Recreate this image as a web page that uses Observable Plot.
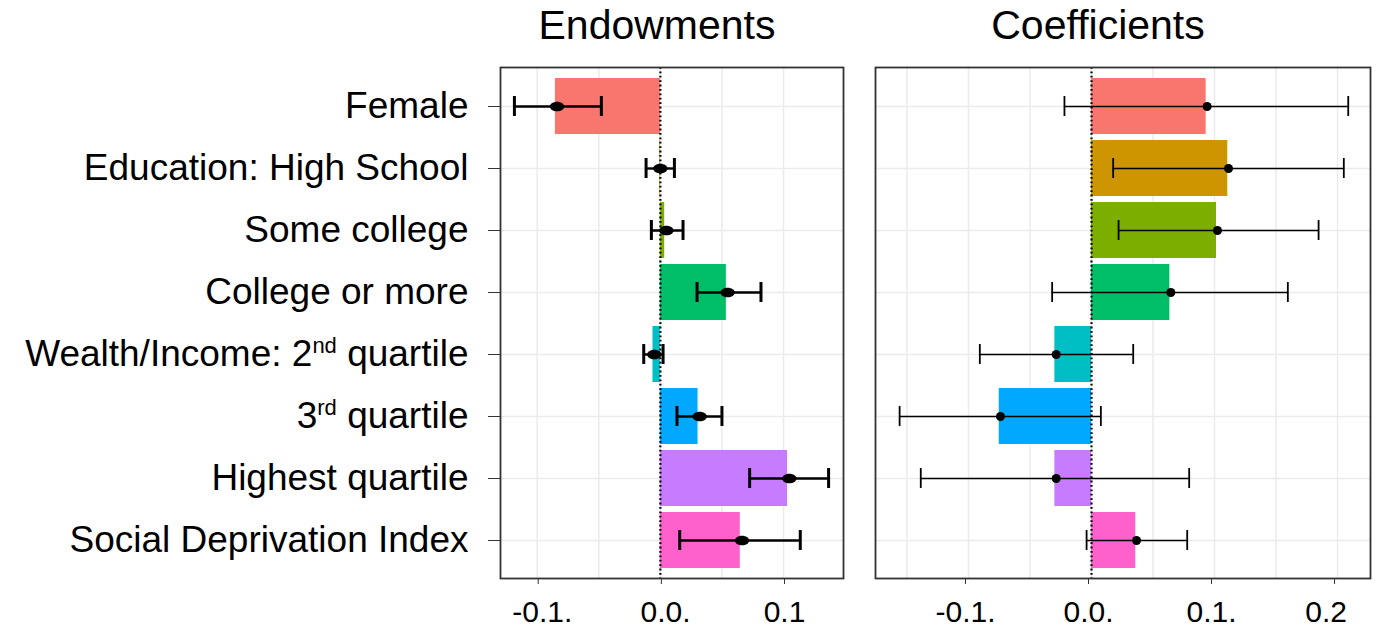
<!DOCTYPE html>
<html>
<head>
<meta charset="utf-8">
<script src="https://cdn.jsdelivr.net/npm/d3@7"></script>
<script src="https://cdn.jsdelivr.net/npm/@observablehq/plot@0.6"></script>
<style>
  html, body { margin: 0; padding: 0; background: #fff; }
  #wrap { position: relative; width: 1383px; height: 628px; overflow: hidden; font-family: "Liberation Sans", Arial, sans-serif; }
  .panel { position: absolute; top: 0; z-index: 1; }
  .title { position: absolute; top: 5px; z-index: 2; font-size: 41px; line-height: 41px; color: #000; transform: translateX(-50%); white-space: nowrap; }
</style>
</head>
<body>
<div id="wrap">
  <div class="panel" id="left" style="left:0px"></div>
  <div class="panel" id="right" style="left:855px"></div>
  <div class="title" id="t1" style="left:657px">Endowments</div>
  <div class="title" id="t2" style="left:1098px">Coefficients</div>
</div>
<script>
// ---- Data ----
const categories = ["Female", "Education: High School", "Some college", "College or more",
  "Wealth/Income: 2nd quartile", "3rd quartile", "Highest quartile", "Social Deprivation Index"];
const colors = ["#F8766D", "#CD9600", "#7CAE00", "#00BE67", "#00BFC4", "#00A9FF", "#C77CFF", "#FF61CC"];

const endowBar   = [-0.0852, -0.0005, 0.0035, 0.0536, -0.0060, 0.0306, 0.1033, 0.0649];
const endowPoint = [-0.0839,  0.0000, 0.0049, 0.0546, -0.0049, 0.0319, 0.1047, 0.0663];
const endowLow   = [-0.1185, -0.0116, -0.0073, 0.0298, -0.0135, 0.0135, 0.0725, 0.0157];
const endowHigh  = [-0.0479,  0.0114, 0.0184, 0.0817,  0.0022, 0.0500, 0.1366, 0.1136];

const coefBar   = [0.0932, 0.1108, 0.1016, 0.0637, -0.0298, -0.0750, -0.0298, 0.0360];
const coefPoint = [0.0940, 0.1114, 0.1024, 0.0645, -0.0287, -0.0740, -0.0287, 0.0366];
const coefLow   = [-0.0220, 0.0176, 0.0220, -0.0320, -0.0908, -0.1560, -0.1388, -0.0040];
const coefHigh  = [0.2087, 0.2051, 0.1846, 0.1596, 0.0339, 0.0076, 0.0794, 0.0778];

const leftTicks = [-0.1, 0, 0.1];
const leftTickLabels = ["-0.1.", "0.0.", "0.1"];
const rightTicks = [-0.1, 0, 0.1, 0.2];
const rightTickLabels = ["-0.1.", "0.0.", "0.1.", "0.2"];
const leftGrid = [-0.1, -0.05, 0, 0.05, 0.1];
const rightGrid = [-0.15, -0.1, -0.05, 0, 0.05, 0.1, 0.15, 0.2];

// ---- Build tables ----
function table(bar, pt, lo, hi) {
  return categories.map((c, i) => ({cat: c, color: colors[i], bar: bar[i], pt: pt[i], lo: lo[i], hi: hi[i]}));
}
const endow = table(endowBar, endowPoint, endowLow, endowHigh);
const coef = table(coefBar, coefPoint, coefLow, coefHigh);

// left panel: number centred on its tick, trailing period hangs (punctuation space balances it)
function fmtLeft(ticks, labels) {
  const m = new Map(ticks.map((t, i) => [t, labels[i]]));
  return d => { const s = m.get(d) ?? String(d); return s.endsWith(".") ? "\u2008" + s : s; };
}
// right panel: whole label centred; a label without a period is padded as in the reference
function fmtRight(ticks, labels) {
  const m = new Map(ticks.map((t, i) => [t, labels[i]]));
  return d => { const s = m.get(d) ?? String(d); return s.endsWith(".") ? s : s + "\u2008\u2008"; };
}

// ellipse symbol for the left panel points
const ellipse = {
  draw(ctx, size) {
    const r = Math.sqrt(size / Math.PI), rx = r * 1.5, ry = r, k = 0.5523;
    ctx.moveTo(rx, 0);
    ctx.bezierCurveTo(rx, k * ry, k * rx, ry, 0, ry);
    ctx.bezierCurveTo(-k * rx, ry, -rx, k * ry, -rx, 0);
    ctx.bezierCurveTo(-rx, -k * ry, -k * rx, -ry, 0, -ry);
    ctx.bezierCurveTo(k * rx, -ry, rx, -k * ry, rx, 0);
    ctx.closePath();
  }
};

const H = 628, MT = 67, MB = 50;
const yOpts = {domain: categories, paddingInner: 0.1, paddingOuter: 0.15};
const bandH = (H - MT - MB) / (8 - 0.1 + 0.3) * 0.9;
const capInset = (bandH - 20) / 2;
const gridStyle = {stroke: "#ebebeb", strokeOpacity: 1, strokeWidth: 1.5};

const left = Plot.plot({
  width: 855, height: H, marginLeft: 500, marginRight: 12, marginTop: MT, marginBottom: MB,
  style: {fontFamily: "'Liberation Sans', Arial, sans-serif", background: "white", color: "black"},
  x: {domain: [-0.1298, 0.1487]},
  y: yOpts,
  marks: [
    Plot.gridX(leftGrid, gridStyle),
    Plot.gridY(categories, gridStyle),
    Plot.barX(endow, {x: "bar", y: "cat", fill: "color"}),
    Plot.ruleX([0], {stroke: "black", strokeWidth: 2.2, strokeDasharray: "1.8,2.6"}),
    Plot.ruleY(endow, {y: "cat", x1: "lo", x2: "hi", stroke: "black", strokeWidth: 2.4}),
    Plot.tickX(endow, {x: "lo", y: "cat", stroke: "black", strokeWidth: 3, insetTop: capInset, insetBottom: capInset}),
    Plot.tickX(endow, {x: "hi", y: "cat", stroke: "black", strokeWidth: 3, insetTop: capInset, insetBottom: capInset}),
    Plot.dot(endow, {x: "pt", y: "cat", r: 4.8, fill: "black", stroke: "none", symbol: ellipse}),
    Plot.frame({stroke: "#333", strokeWidth: 1.8}),
    Plot.axisY({tickSize: 12, tickPadding: 20, fontSize: 37, label: null, stroke: "#333"}),
    Plot.axisX({ticks: leftTicks, tickFormat: fmtLeft(leftTicks, leftTickLabels), tickSize: 6, tickPadding: 16, fontSize: 30, dx: 1, label: null, stroke: "#333"})
  ]
});

const right = Plot.plot({
  width: 528, height: H, marginLeft: 20, marginRight: 13, marginTop: MT, marginBottom: MB,
  style: {fontFamily: "'Liberation Sans', Arial, sans-serif", background: "white", color: "black"},
  x: {domain: [-0.1756, 0.2268]},
  y: {...yOpts, axis: null},
  marks: [
    Plot.gridX(rightGrid, gridStyle),
    Plot.gridY(categories, gridStyle),
    Plot.barX(coef, {x: "bar", y: "cat", fill: "color"}),
    Plot.ruleX([0], {stroke: "black", strokeWidth: 2.2, strokeDasharray: "1.8,2.6"}),
    Plot.ruleY(coef, {y: "cat", x1: "lo", x2: "hi", stroke: "black", strokeWidth: 1.6}),
    Plot.tickX(coef, {x: "lo", y: "cat", stroke: "black", strokeWidth: 1.8, insetTop: capInset, insetBottom: capInset}),
    Plot.tickX(coef, {x: "hi", y: "cat", stroke: "black", strokeWidth: 1.8, insetTop: capInset, insetBottom: capInset}),
    Plot.dot(coef, {x: "pt", y: "cat", r: 4.5, fill: "black", stroke: "none"}),
    Plot.frame({stroke: "#333", strokeWidth: 1.8}),
    Plot.axisX({ticks: rightTicks, tickFormat: fmtRight(rightTicks, rightTickLabels), tickSize: 6, tickPadding: 16, fontSize: 30, dx: -3, label: null, stroke: "#333"})
  ]
});

// superscripts for ordinal labels (kept as real text)
left.querySelectorAll("text").forEach(t => {
  if (t.querySelector("tspan")) return;
  const s = t.textContent;
  const m = s.match(/^(.*?\d)(nd|rd)( .*)$/);
  if (!m) return;
  const ns = "http://www.w3.org/2000/svg";
  t.textContent = "";
  const a = document.createElementNS(ns, "tspan"); a.textContent = m[1];
  const b = document.createElementNS(ns, "tspan"); b.textContent = m[2];
  b.setAttribute("font-size", "22"); b.setAttribute("dy", "-13");
  const c = document.createElementNS(ns, "tspan"); c.textContent = m[3];
  c.setAttribute("dy", "13");
  t.append(a, b, c);
});

document.getElementById("left").append(left);
document.getElementById("right").append(right);
</script>
</body>
</html>
